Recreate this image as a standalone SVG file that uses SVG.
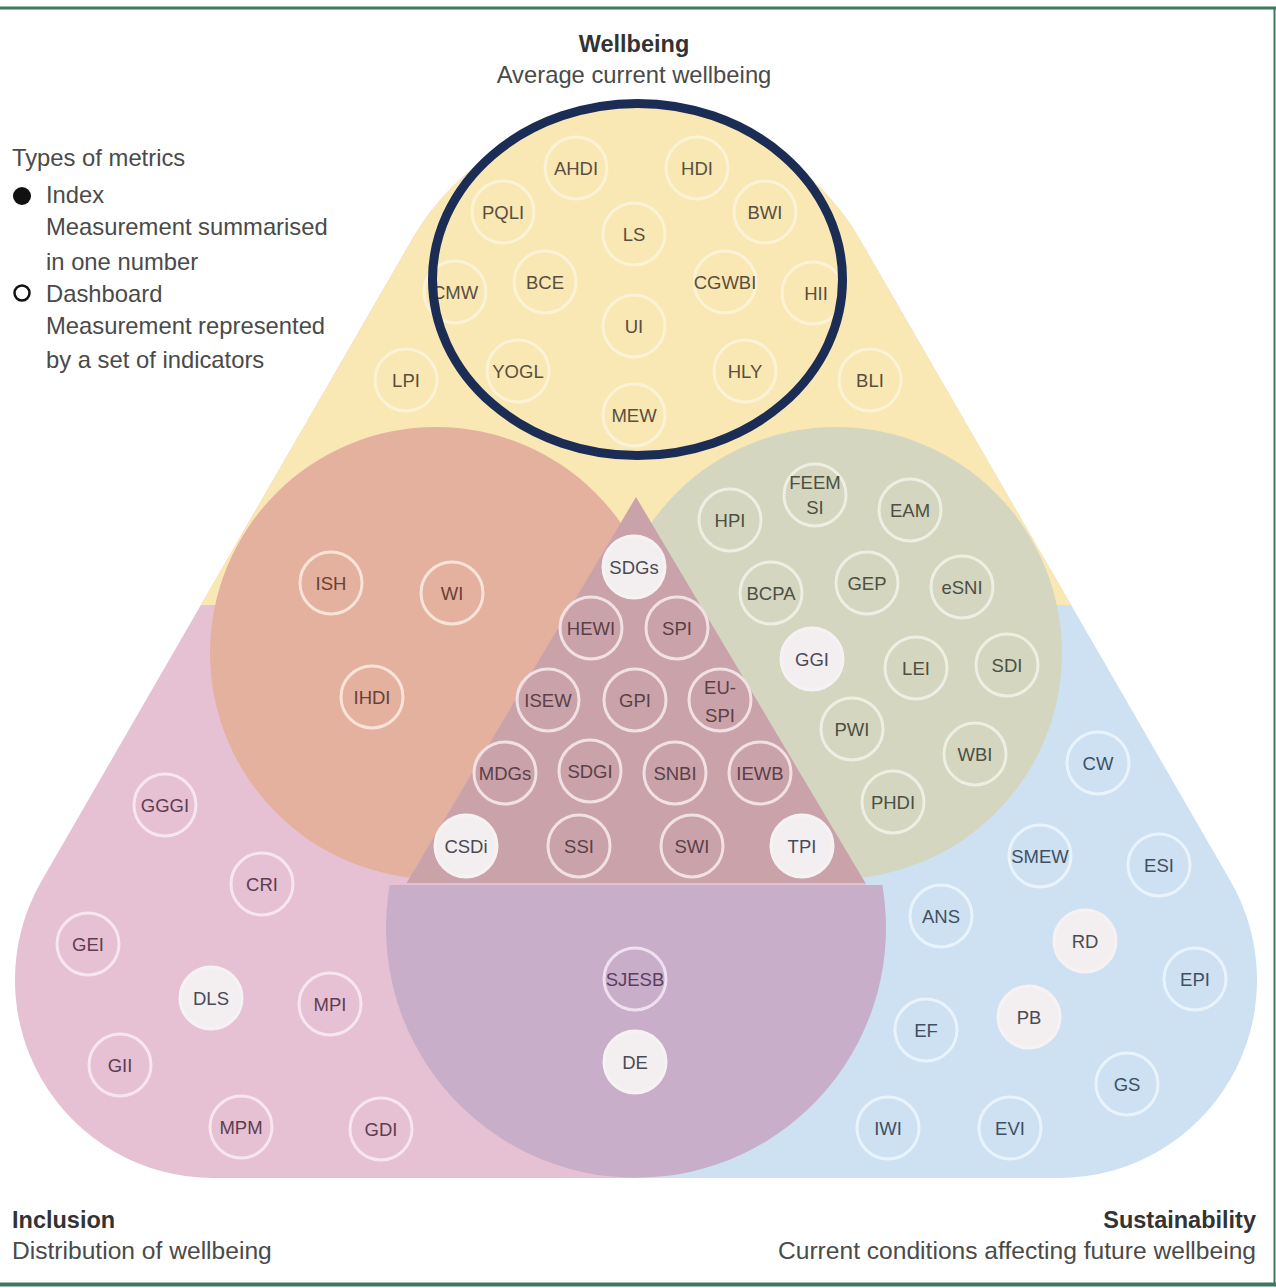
<svg xmlns="http://www.w3.org/2000/svg" width="1276" height="1288" viewBox="0 0 1276 1288">
<defs>
<style>
text{font-family:"Liberation Sans",Arial,sans-serif}
.lab{font-size:18.5px;text-anchor:middle;fill:#4b4444}
.n circle{stroke-width:3}
.y circle{fill:none;stroke:#fcf2d6}
.y text{fill:#5a4f3d}
.r circle{fill:none;stroke:#f8e3d8}
.r text{fill:#6a3f37}
.m circle{fill:none;stroke:#f1e0e4}
.m text{fill:#5c3f48}
.g circle{fill:none;stroke:#ecefe2}
.g text{fill:#4d5042}
.b circle{fill:none;stroke:#e9f3fc}
.b text{fill:#3f5064}
.p circle{fill:none;stroke:#efe0f0}
.p text{fill:#5a3f60}
.k circle{fill:none;stroke:#f7e6ee}
.k text{fill:#5e3d50}
.f circle{fill:#f3eff1;stroke:#f6f2f4}
.f text{fill:#4a4a55}
.big{font-size:23.8px;fill:#4a4a4a}
.sub{font-size:24.6px;fill:#4a4a4a}
.bold{font-size:23.5px;font-weight:bold;fill:#333}
</style>
<clipPath id="outer">
<path d="M411.7,240 A259,259 0 0 1 860.3,240 L1230.5,881 A198,198 0 0 1 1059,1178 L213,1178 A198,198 0 0 1 41.5,881 Z"/>
</clipPath>
</defs>
<rect width="1276" height="1288" fill="#fff"/>
<g id="frame" stroke="#3c7a5f">
<line x1="0" y1="8" x2="1276" y2="8" stroke-width="3"/>
<line x1="0" y1="1284.5" x2="1276" y2="1284.5" stroke-width="4"/>
<line x1="1274.5" y1="8" x2="1274.5" y2="1286" stroke-width="2"/>
</g>
<g id="regions">
<g clip-path="url(#outer)">
<rect x="0" y="0" width="636" height="1288" fill="#e6c1d3"/>
<rect x="636" y="0" width="640" height="1288" fill="#cde1f3"/>
<rect x="0" y="0" width="1276" height="605" fill="#f9e7b4"/>
</g>
<ellipse cx="637.5" cy="279.5" rx="205" ry="176" fill="#f9e7b4"/>
<path d="M389.7,885 A250,250 0 1 0 882.3,885 Z" fill="#c8aec9"/>
<circle cx="436" cy="653" r="226" fill="#e4b19e"/>
<circle cx="836" cy="653" r="226" fill="#d4d6c0"/>
<polygon points="636,497 406,884 866,884" fill="#c9a3a9"/>
<line x1="406" y1="884" x2="866" y2="884" stroke="#dcc4d6" stroke-width="2"/>
</g>
<g id="connectors"/>
<g id="nodes" class="lab">
<g id="n-AHDI" class="n y"><circle cx="576" cy="168" r="31"/><text x="576" y="174.5">AHDI</text></g>
<g id="n-HDI" class="n y"><circle cx="697" cy="168" r="31"/><text x="697" y="174.5">HDI</text></g>
<g id="n-PQLI" class="n y"><circle cx="503" cy="212" r="31"/><text x="503" y="218.5">PQLI</text></g>
<g id="n-BWI" class="n y"><circle cx="765" cy="212" r="31"/><text x="765" y="218.5">BWI</text></g>
<g id="n-LS" class="n y"><circle cx="634" cy="234" r="31"/><text x="634" y="240.5">LS</text></g>
<g id="n-CMW" class="n y"><circle cx="455" cy="292" r="31"/><text x="455" y="298.5">CMW</text></g>
<g id="n-BCE" class="n y"><circle cx="545" cy="282" r="31"/><text x="545" y="288.5">BCE</text></g>
<g id="n-CGWBI" class="n y"><circle cx="725" cy="282" r="31"/><text x="725" y="288.5">CGWBI</text></g>
<g id="n-HII" class="n y"><circle cx="813" cy="293" r="31"/><text x="816" y="299.5">HII</text></g>
<g id="n-UI" class="n y"><circle cx="634" cy="326" r="31"/><text x="634" y="332.5">UI</text></g>
<g id="n-YOGL" class="n y"><circle cx="518" cy="371" r="31"/><text x="518" y="377.5">YOGL</text></g>
<g id="n-HLY" class="n y"><circle cx="745" cy="371" r="31"/><text x="745" y="377.5">HLY</text></g>
<g id="n-MEW" class="n y"><circle cx="634" cy="415" r="31"/><text x="634" y="421.5">MEW</text></g>
<g id="n-LPI" class="n y"><circle cx="406" cy="380" r="31"/><text x="406" y="386.5">LPI</text></g>
<g id="n-BLI" class="n y"><circle cx="870" cy="380" r="31"/><text x="870" y="386.5">BLI</text></g>

<g id="n-ISH" class="n r"><circle cx="331" cy="583" r="31"/><text x="331" y="589.5">ISH</text></g>
<g id="n-WI" class="n r"><circle cx="452" cy="593" r="31"/><text x="452" y="599.5">WI</text></g>
<g id="n-IHDI" class="n r"><circle cx="372" cy="697" r="31"/><text x="372" y="703.5">IHDI</text></g>

<g id="n-SDGs" class="n f"><circle cx="634" cy="567" r="31"/><text x="634" y="573.5">SDGs</text></g>
<g id="n-HEWI" class="n m"><circle cx="591" cy="628" r="31"/><text x="591" y="634.5">HEWI</text></g>
<g id="n-SPI" class="n m"><circle cx="677" cy="628" r="31"/><text x="677" y="634.5">SPI</text></g>
<g id="n-ISEW" class="n m"><circle cx="548" cy="700" r="31"/><text x="548" y="706.5">ISEW</text></g>
<g id="n-GPI" class="n m"><circle cx="635" cy="700" r="31"/><text x="635" y="706.5">GPI</text></g>
<g id="n-EUSPI" class="n m"><circle cx="720" cy="700" r="31"/><text x="720" y="694">EU-</text><text x="720" y="722">SPI</text></g>
<g id="n-MDGs" class="n m"><circle cx="505" cy="773" r="31"/><text x="505" y="779.5">MDGs</text></g>
<g id="n-SDGI" class="n m"><circle cx="590" cy="771" r="31"/><text x="590" y="777.5">SDGI</text></g>
<g id="n-SNBI" class="n m"><circle cx="675" cy="773" r="31"/><text x="675" y="779.5">SNBI</text></g>
<g id="n-IEWB" class="n m"><circle cx="760" cy="773" r="31"/><text x="760" y="779.5">IEWB</text></g>
<g id="n-CSDi" class="n f"><circle cx="466" cy="846" r="31"/><text x="466" y="852.5">CSDi</text></g>
<g id="n-SSI" class="n m"><circle cx="579" cy="846" r="31"/><text x="579" y="852.5">SSI</text></g>
<g id="n-SWI" class="n m"><circle cx="692" cy="846" r="31"/><text x="692" y="852.5">SWI</text></g>
<g id="n-TPI" class="n f"><circle cx="802" cy="846" r="31"/><text x="802" y="852.5">TPI</text></g>

<g id="n-FEEMSI" class="n g"><circle cx="815" cy="495" r="31"/><text x="815" y="489">FEEM</text><text x="815" y="514">SI</text></g>
<g id="n-HPI" class="n g"><circle cx="730" cy="520" r="31"/><text x="730" y="526.5">HPI</text></g>
<g id="n-EAM" class="n g"><circle cx="910" cy="510" r="31"/><text x="910" y="516.5">EAM</text></g>
<g id="n-BCPA" class="n g"><circle cx="771" cy="593" r="31"/><text x="771" y="599.5">BCPA</text></g>
<g id="n-GEP" class="n g"><circle cx="867" cy="583" r="31"/><text x="867" y="589.5">GEP</text></g>
<g id="n-eSNI" class="n g"><circle cx="962" cy="587" r="31"/><text x="962" y="593.5">eSNI</text></g>
<g id="n-GGI" class="n f"><circle cx="812" cy="659" r="31"/><text x="812" y="665.5">GGI</text></g>
<g id="n-LEI" class="n g"><circle cx="916" cy="668" r="31"/><text x="916" y="674.5">LEI</text></g>
<g id="n-SDI" class="n g"><circle cx="1007" cy="665" r="31"/><text x="1007" y="671.5">SDI</text></g>
<g id="n-PWI" class="n g"><circle cx="852" cy="729" r="31"/><text x="852" y="735.5">PWI</text></g>
<g id="n-WBI" class="n g"><circle cx="975" cy="754" r="31"/><text x="975" y="760.5">WBI</text></g>
<g id="n-PHDI" class="n g"><circle cx="893" cy="802" r="31"/><text x="893" y="808.5">PHDI</text></g>

<g id="n-CW" class="n b"><circle cx="1098" cy="763" r="31"/><text x="1098" y="769.5">CW</text></g>
<g id="n-SMEW" class="n b"><circle cx="1040" cy="856" r="31"/><text x="1040" y="862.5">SMEW</text></g>
<g id="n-ESI" class="n b"><circle cx="1159" cy="865" r="31"/><text x="1159" y="871.5">ESI</text></g>
<g id="n-ANS" class="n b"><circle cx="941" cy="916" r="31"/><text x="941" y="922.5">ANS</text></g>
<g id="n-RD" class="n f"><circle cx="1085" cy="941" r="31"/><text x="1085" y="947.5">RD</text></g>
<g id="n-EPI" class="n b"><circle cx="1195" cy="979" r="31"/><text x="1195" y="985.5">EPI</text></g>
<g id="n-EF" class="n b"><circle cx="926" cy="1030" r="31"/><text x="926" y="1036.5">EF</text></g>
<g id="n-PB" class="n f"><circle cx="1029" cy="1017" r="31"/><text x="1029" y="1023.5">PB</text></g>
<g id="n-GS" class="n b"><circle cx="1127" cy="1084" r="31"/><text x="1127" y="1090.5">GS</text></g>
<g id="n-IWI" class="n b"><circle cx="888" cy="1128" r="31"/><text x="888" y="1134.5">IWI</text></g>
<g id="n-EVI" class="n b"><circle cx="1010" cy="1128" r="31"/><text x="1010" y="1134.5">EVI</text></g>

<g id="n-SJESB" class="n p"><circle cx="635" cy="979" r="31"/><text x="635" y="985.5">SJESB</text></g>
<g id="n-DE" class="n f"><circle cx="635" cy="1062" r="31"/><text x="635" y="1068.5">DE</text></g>

<g id="n-GGGI" class="n k"><circle cx="165" cy="805" r="31"/><text x="165" y="811.5">GGGI</text></g>
<g id="n-CRI" class="n k"><circle cx="262" cy="884" r="31"/><text x="262" y="890.5">CRI</text></g>
<g id="n-GEI" class="n k"><circle cx="88" cy="944" r="31"/><text x="88" y="950.5">GEI</text></g>
<g id="n-DLS" class="n f"><circle cx="211" cy="998" r="31"/><text x="211" y="1004.5">DLS</text></g>
<g id="n-MPI" class="n k"><circle cx="330" cy="1004" r="31"/><text x="330" y="1010.5">MPI</text></g>
<g id="n-GII" class="n k"><circle cx="120" cy="1065" r="31"/><text x="120" y="1071.5">GII</text></g>
<g id="n-MPM" class="n k"><circle cx="241" cy="1127" r="31"/><text x="241" y="1133.5">MPM</text></g>
<g id="n-GDI" class="n k"><circle cx="381" cy="1129" r="31"/><text x="381" y="1135.5">GDI</text></g>
</g>
<g id="wellbeing-ring">
<ellipse cx="637.5" cy="279.5" rx="205" ry="176" fill="none" stroke="#1b2c55" stroke-width="9"/>
</g>
<g id="titles">
<text class="bold" x="634" y="52" text-anchor="middle">Wellbeing</text>
<text class="big" x="634" y="83" text-anchor="middle">Average current wellbeing</text>
<text class="bold" x="12" y="1228">Inclusion</text>
<text class="sub" x="12" y="1259">Distribution of wellbeing</text>
<text class="bold" x="1256" y="1228" text-anchor="end">Sustainability</text>
<text class="sub" x="1256" y="1259" text-anchor="end">Current conditions affecting future wellbeing</text>
</g>
<g id="legend">
<text class="big" x="12" y="166" fill="#555">Types of metrics</text>
<circle cx="22" cy="196" r="9" fill="#111"/>
<text class="big" x="46" y="203">Index</text>
<text class="big" x="46" y="235">Measurement summarised</text>
<text class="big" x="46" y="270">in one number</text>
<circle cx="22" cy="293" r="7.5" fill="#fff" stroke="#111" stroke-width="2.5"/>
<text class="big" x="46" y="302">Dashboard</text>
<text class="big" x="46" y="334">Measurement represented</text>
<text class="big" x="46" y="368">by a set of indicators</text>
</g>
</svg>
